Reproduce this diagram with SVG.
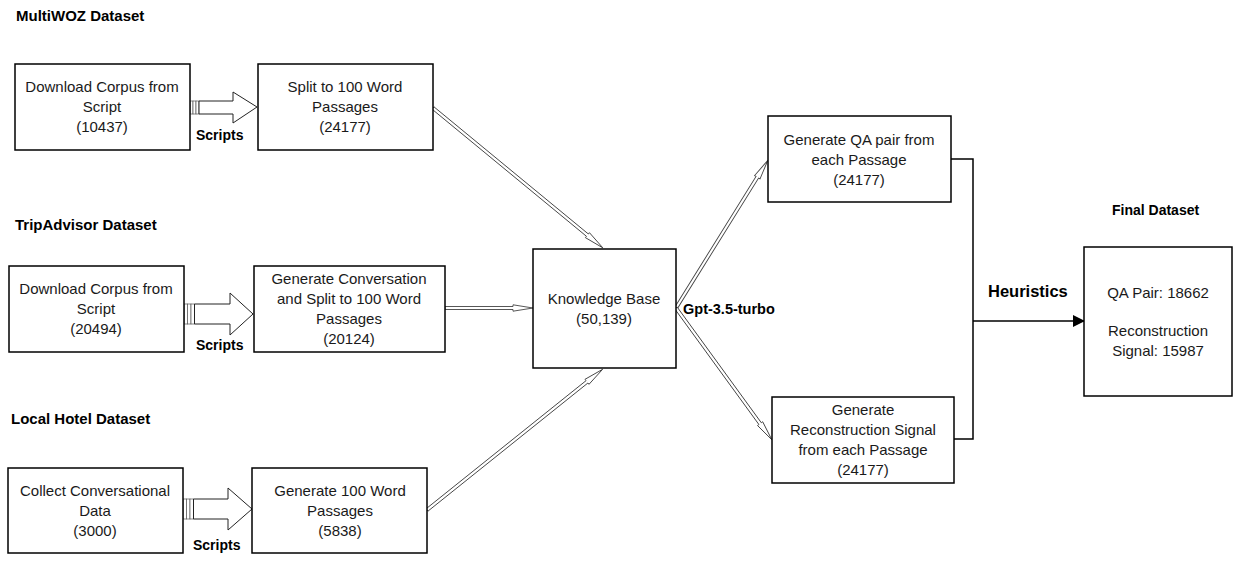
<svg xmlns="http://www.w3.org/2000/svg" width="1236" height="565" viewBox="0 0 1236 565">
<defs>
<style>
.box{fill:#fff;stroke:#000;stroke-width:1.5}
.t{font-family:"Liberation Sans",Arial,sans-serif;font-size:15px;fill:#1a1a1a;text-anchor:middle}
.h{font-family:"Liberation Sans",Arial,sans-serif;font-size:14px;font-weight:bold;fill:#000}
.hd{font-size:15px}
.big{fill:#fff;stroke:#222;stroke-width:1}
.bar{fill:#fff;stroke:#555;stroke-width:0.7}
.thin{fill:#fff;stroke:#444;stroke-width:0.9}
.ln{fill:none;stroke:#000;stroke-width:1.5}
</style>
<marker id="tri" markerWidth="12" markerHeight="12" refX="11" refY="6" orient="auto" markerUnits="userSpaceOnUse">
<path d="M0,0 L12,6 L0,12 Z" fill="#000"/>
</marker>
</defs>
<rect width="1236" height="565" fill="#fff"/>

<text class="h hd" x="16" y="21">MultiWOZ Dataset</text>
<text class="h hd" x="15" y="230">TripAdvisor Dataset</text>
<text class="h hd" x="11" y="424">Local Hotel Dataset</text>
<text class="h" x="1112" y="215">Final Dataset</text>

<g id="connectors">
<g id="scripts1">
<rect class="bar" x="190" y="101" width="3" height="13"/>
<rect class="bar" x="193" y="101" width="3" height="13"/>
<rect class="bar" x="196" y="101" width="3" height="13"/>
<path class="big" d="M199,101 L233,101 L233,92 L257,107 L233,123 L233,114 L199,114 Z"/>
<text class="h" x="196" y="140">Scripts</text>
</g>
<g id="scripts2">
<rect class="bar" x="184" y="304" width="3.5" height="20"/>
<rect class="bar" x="187.5" y="304" width="3.5" height="20"/>
<rect class="bar" x="191" y="304" width="3.5" height="20"/>
<path class="big" d="M194.5,304 L230,304 L230,293 L253,314 L230,335 L230,324 L194.5,324 Z"/>
<text class="h" x="196" y="350">Scripts</text>
</g>
<g id="scripts3">
<rect class="bar" x="183" y="499" width="3.5" height="20"/>
<rect class="bar" x="186.5" y="499" width="3.5" height="20"/>
<rect class="bar" x="190" y="499" width="3.5" height="20"/>
<path class="big" d="M193.5,499 L228,499 L228,488 L252,509 L228,530 L228,519 L193.5,519 Z"/>
<text class="h" x="193" y="550">Scripts</text>
</g>

<path class="thin" transform="translate(433,108) rotate(39.47)" d="M0,-1.5 L200,-1.5 L200,-3.2 L220,0 L200,3.2 L200,1.5 L0,1.5 Z"/>
<path class="thin" transform="translate(445,308)" d="M0,-1.5 L68,-1.5 L68,-3.2 L88,0 L68,3.2 L68,1.5 L0,1.5 Z"/>
<path class="thin" transform="translate(427,510) rotate(-38.7)" d="M0,-1.5 L205,-1.5 L205,-3.2 L225,0 L205,3.2 L205,1.5 L0,1.5 Z"/>
<path class="thin" transform="translate(676,308) rotate(-58.13)" d="M0,-1.5 L154,-1.5 L154,-3.2 L174,0 L154,3.2 L154,1.5 L0,1.5 Z"/>
<path class="thin" transform="translate(676,308) rotate(53.97)" d="M0,-1.5 L143,-1.5 L143,-3.2 L163,0 L143,3.2 L143,1.5 L0,1.5 Z"/>
<text class="h" x="683" y="314" style="font-size:14.5px">Gpt-3.5-turbo</text>

<path class="ln" d="M951,159 L973,159 L973,439 L954,439"/>
<line class="ln" x1="973" y1="321" x2="1084" y2="321" marker-end="url(#tri)"/>
<text class="h" x="988" y="297" style="font-size:16.5px">Heuristics</text>
</g>

<g id="n1"><rect class="box" x="15" y="64" width="175" height="86"/>
<text class="t" x="102" y="92">Download Corpus from</text><text class="t" x="102" y="112">Script</text><text class="t" x="102" y="132">(10437)</text></g>

<g id="n2"><rect class="box" x="258" y="64" width="175" height="86"/>
<text class="t" x="345" y="92">Split to 100 Word</text><text class="t" x="345" y="112">Passages</text><text class="t" x="345" y="132">(24177)</text></g>

<g id="n3"><rect class="box" x="9" y="266" width="175" height="86"/>
<text class="t" x="96" y="294">Download Corpus from</text><text class="t" x="96" y="314">Script</text><text class="t" x="96" y="334">(20494)</text></g>

<g id="n4"><rect class="box" x="254" y="266" width="191" height="86"/>
<text class="t" x="349" y="284">Generate Conversation</text><text class="t" x="349" y="304">and Split to 100 Word</text><text class="t" x="349" y="324">Passages</text><text class="t" x="349" y="344">(20124)</text></g>

<g id="n5"><rect class="box" x="8" y="468" width="175" height="85"/>
<text class="t" x="95" y="496">Collect Conversational</text><text class="t" x="95" y="516">Data</text><text class="t" x="95" y="536">(3000)</text></g>

<g id="n6"><rect class="box" x="252" y="468" width="175" height="85"/>
<text class="t" x="340" y="496">Generate 100 Word</text><text class="t" x="340" y="516">Passages</text><text class="t" x="340" y="536">(5838)</text></g>

<g id="kb"><rect class="box" x="533" y="249" width="143" height="119"/>
<text class="t" x="604" y="304">Knowledge Base</text><text class="t" x="604" y="324">(50,139)</text></g>

<g id="qa"><rect class="box" x="768" y="116" width="183" height="86"/>
<text class="t" x="859" y="145">Generate QA pair from</text><text class="t" x="859" y="165">each Passage</text><text class="t" x="859" y="185">(24177)</text></g>

<g id="rs"><rect class="box" x="772" y="397" width="182" height="86"/>
<text class="t" x="863" y="415">Generate</text><text class="t" x="863" y="435">Reconstruction Signal</text><text class="t" x="863" y="455">from each Passage</text><text class="t" x="863" y="475">(24177)</text></g>

<g id="final"><rect class="box" x="1084" y="247" width="148" height="149"/>
<text class="t" x="1158" y="298">QA Pair: 18662</text><text class="t" x="1158" y="336">Reconstruction</text><text class="t" x="1158" y="356">Signal: 15987</text></g>
</svg>
